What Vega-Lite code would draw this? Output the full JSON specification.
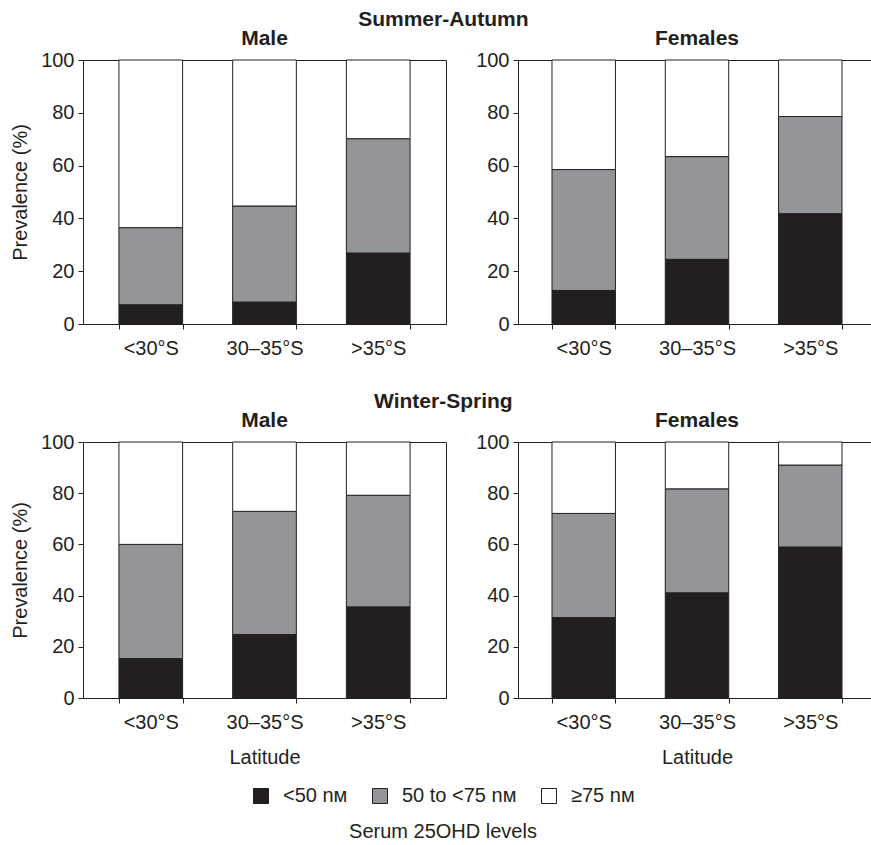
{
  "$schema": "https://vega.github.io/schema/vega-lite/v6.json",
  "padding": {"left": 10, "top": 8, "right": 0, "bottom": 0},
  "background": "white",
  "datasets": {
    "prev": [
      {"season": "Summer-Autumn", "sex": "Male", "lat": "<30°S", "level": "<50 nᴍ", "rank": 1, "value": 7.3},
      {"season": "Summer-Autumn", "sex": "Male", "lat": "<30°S", "level": "50 to <75 nᴍ", "rank": 2, "value": 29.2},
      {"season": "Summer-Autumn", "sex": "Male", "lat": "<30°S", "level": "≥75 nᴍ", "rank": 3, "value": 63.5},
      {"season": "Summer-Autumn", "sex": "Male", "lat": "30–35°S", "level": "<50 nᴍ", "rank": 1, "value": 8.3},
      {"season": "Summer-Autumn", "sex": "Male", "lat": "30–35°S", "level": "50 to <75 nᴍ", "rank": 2, "value": 36.4},
      {"season": "Summer-Autumn", "sex": "Male", "lat": "30–35°S", "level": "≥75 nᴍ", "rank": 3, "value": 55.3},
      {"season": "Summer-Autumn", "sex": "Male", "lat": ">35°S", "level": "<50 nᴍ", "rank": 1, "value": 26.9},
      {"season": "Summer-Autumn", "sex": "Male", "lat": ">35°S", "level": "50 to <75 nᴍ", "rank": 2, "value": 43.3},
      {"season": "Summer-Autumn", "sex": "Male", "lat": ">35°S", "level": "≥75 nᴍ", "rank": 3, "value": 29.8},
      {"season": "Summer-Autumn", "sex": "Females", "lat": "<30°S", "level": "<50 nᴍ", "rank": 1, "value": 12.7},
      {"season": "Summer-Autumn", "sex": "Females", "lat": "<30°S", "level": "50 to <75 nᴍ", "rank": 2, "value": 45.8},
      {"season": "Summer-Autumn", "sex": "Females", "lat": "<30°S", "level": "≥75 nᴍ", "rank": 3, "value": 41.5},
      {"season": "Summer-Autumn", "sex": "Females", "lat": "30–35°S", "level": "<50 nᴍ", "rank": 1, "value": 24.5},
      {"season": "Summer-Autumn", "sex": "Females", "lat": "30–35°S", "level": "50 to <75 nᴍ", "rank": 2, "value": 38.9},
      {"season": "Summer-Autumn", "sex": "Females", "lat": "30–35°S", "level": "≥75 nᴍ", "rank": 3, "value": 36.6},
      {"season": "Summer-Autumn", "sex": "Females", "lat": ">35°S", "level": "<50 nᴍ", "rank": 1, "value": 41.8},
      {"season": "Summer-Autumn", "sex": "Females", "lat": ">35°S", "level": "50 to <75 nᴍ", "rank": 2, "value": 36.8},
      {"season": "Summer-Autumn", "sex": "Females", "lat": ">35°S", "level": "≥75 nᴍ", "rank": 3, "value": 21.4},
      {"season": "Winter-Spring", "sex": "Male", "lat": "<30°S", "level": "<50 nᴍ", "rank": 1, "value": 15.4},
      {"season": "Winter-Spring", "sex": "Male", "lat": "<30°S", "level": "50 to <75 nᴍ", "rank": 2, "value": 44.6},
      {"season": "Winter-Spring", "sex": "Male", "lat": "<30°S", "level": "≥75 nᴍ", "rank": 3, "value": 40.0},
      {"season": "Winter-Spring", "sex": "Male", "lat": "30–35°S", "level": "<50 nᴍ", "rank": 1, "value": 24.8},
      {"season": "Winter-Spring", "sex": "Male", "lat": "30–35°S", "level": "50 to <75 nᴍ", "rank": 2, "value": 48.1},
      {"season": "Winter-Spring", "sex": "Male", "lat": "30–35°S", "level": "≥75 nᴍ", "rank": 3, "value": 27.1},
      {"season": "Winter-Spring", "sex": "Male", "lat": ">35°S", "level": "<50 nᴍ", "rank": 1, "value": 35.6},
      {"season": "Winter-Spring", "sex": "Male", "lat": ">35°S", "level": "50 to <75 nᴍ", "rank": 2, "value": 43.6},
      {"season": "Winter-Spring", "sex": "Male", "lat": ">35°S", "level": "≥75 nᴍ", "rank": 3, "value": 20.8},
      {"season": "Winter-Spring", "sex": "Females", "lat": "<30°S", "level": "<50 nᴍ", "rank": 1, "value": 31.4},
      {"season": "Winter-Spring", "sex": "Females", "lat": "<30°S", "level": "50 to <75 nᴍ", "rank": 2, "value": 40.7},
      {"season": "Winter-Spring", "sex": "Females", "lat": "<30°S", "level": "≥75 nᴍ", "rank": 3, "value": 27.9},
      {"season": "Winter-Spring", "sex": "Females", "lat": "30–35°S", "level": "<50 nᴍ", "rank": 1, "value": 41.1},
      {"season": "Winter-Spring", "sex": "Females", "lat": "30–35°S", "level": "50 to <75 nᴍ", "rank": 2, "value": 40.6},
      {"season": "Winter-Spring", "sex": "Females", "lat": "30–35°S", "level": "≥75 nᴍ", "rank": 3, "value": 18.3},
      {"season": "Winter-Spring", "sex": "Females", "lat": ">35°S", "level": "<50 nᴍ", "rank": 1, "value": 59.0},
      {"season": "Winter-Spring", "sex": "Females", "lat": ">35°S", "level": "50 to <75 nᴍ", "rank": 2, "value": 32.0},
      {"season": "Winter-Spring", "sex": "Females", "lat": ">35°S", "level": "≥75 nᴍ", "rank": 3, "value": 9.0}
    ]
  },
  "data": {"name": "prev"},
  "vconcat": [
    {
      "title": {"text": "Summer-Autumn", "anchor": "middle", "offset": -2},
      "spacing": 28,
      "hconcat": [
        {
          "width": 363, "height": 264,
          "title": "Male",
          "transform": [{"filter": "datum.season === 'Summer-Autumn' && datum.sex === 'Male'"}],
          "mark": {"type": "bar", "stroke": "#231f20", "strokeWidth": 1},
          "encoding": {
            "x": {"field": "lat", "type": "nominal", "sort": ["<30°S", "30–35°S", ">35°S"], "scale": {"paddingInner": 0.44, "paddingOuter": 0.316}, "axis": {"title": null}},
            "y": {"field": "value", "type": "quantitative", "stack": "zero", "scale": {"domain": [0, 100]}, "axis": {"title": "Prevalence (%)", "values": [0, 20, 40, 60, 80, 100]}},
            "color": {"field": "level", "type": "nominal", "scale": {"domain": ["<50 nᴍ", "50 to <75 nᴍ", "≥75 nᴍ"], "range": ["#231f20", "#939598", "#ffffff"]}, "legend": {"title": "Serum 25OHD levels"}},
            "order": {"field": "rank", "type": "quantitative"}
          }
        },
        {
          "width": 358, "height": 264,
          "title": "Females",
          "transform": [{"filter": "datum.season === 'Summer-Autumn' && datum.sex === 'Females'"}],
          "mark": {"type": "bar", "stroke": "#231f20", "strokeWidth": 1},
          "encoding": {
            "x": {"field": "lat", "type": "nominal", "sort": ["<30°S", "30–35°S", ">35°S"], "scale": {"paddingInner": 0.44, "paddingOuter": 0.3}, "axis": {"title": null}},
            "y": {"field": "value", "type": "quantitative", "stack": "zero", "scale": {"domain": [0, 100]}, "axis": {"title": null, "values": [0, 20, 40, 60, 80, 100]}},
            "color": {"field": "level", "type": "nominal", "scale": {"domain": ["<50 nᴍ", "50 to <75 nᴍ", "≥75 nᴍ"], "range": ["#231f20", "#939598", "#ffffff"]}, "legend": {"title": "Serum 25OHD levels"}},
            "order": {"field": "rank", "type": "quantitative"}
          }
        }
      ]
    },
    {
      "title": {"text": "Winter-Spring", "anchor": "middle", "offset": -2},
      "spacing": 28,
      "hconcat": [
        {
          "width": 363, "height": 256,
          "title": "Male",
          "transform": [{"filter": "datum.season === 'Winter-Spring' && datum.sex === 'Male'"}],
          "mark": {"type": "bar", "stroke": "#231f20", "strokeWidth": 1},
          "encoding": {
            "x": {"field": "lat", "type": "nominal", "sort": ["<30°S", "30–35°S", ">35°S"], "scale": {"paddingInner": 0.44, "paddingOuter": 0.316}, "axis": {"title": "Latitude"}},
            "y": {"field": "value", "type": "quantitative", "stack": "zero", "scale": {"domain": [0, 100]}, "axis": {"title": "Prevalence (%)", "values": [0, 20, 40, 60, 80, 100]}},
            "color": {"field": "level", "type": "nominal", "scale": {"domain": ["<50 nᴍ", "50 to <75 nᴍ", "≥75 nᴍ"], "range": ["#231f20", "#939598", "#ffffff"]}, "legend": {"title": "Serum 25OHD levels"}},
            "order": {"field": "rank", "type": "quantitative"}
          }
        },
        {
          "width": 358, "height": 256,
          "title": "Females",
          "transform": [{"filter": "datum.season === 'Winter-Spring' && datum.sex === 'Females'"}],
          "mark": {"type": "bar", "stroke": "#231f20", "strokeWidth": 1},
          "encoding": {
            "x": {"field": "lat", "type": "nominal", "sort": ["<30°S", "30–35°S", ">35°S"], "scale": {"paddingInner": 0.44, "paddingOuter": 0.3}, "axis": {"title": "Latitude"}},
            "y": {"field": "value", "type": "quantitative", "stack": "zero", "scale": {"domain": [0, 100]}, "axis": {"title": null, "values": [0, 20, 40, 60, 80, 100]}},
            "color": {"field": "level", "type": "nominal", "scale": {"domain": ["<50 nᴍ", "50 to <75 nᴍ", "≥75 nᴍ"], "range": ["#231f20", "#939598", "#ffffff"]}, "legend": {"title": "Serum 25OHD levels"}},
            "order": {"field": "rank", "type": "quantitative"}
          }
        }
      ]
    }
  ],
  "spacing": 31,
  "resolve": {"legend": {"color": "shared"}},
  "config": {
    "font": "Liberation Sans",
    "view": {"stroke": "#231f20", "strokeWidth": 1},
    "title": {"font": "Liberation Sans", "fontSize": 21, "fontWeight": "bold", "color": "#231f20", "offset": 1},
    "axis": {
      "grid": false,
      "domainColor": "#231f20",
      "tickColor": "#231f20",
      "tickSize": 5,
      "labelColor": "#231f20",
      "labelFont": "Liberation Sans",
      "labelFontSize": 20,
      "titleFont": "Liberation Sans",
      "titleFontSize": 20,
      "titleFontWeight": "normal",
      "titleColor": "#231f20"
    },
    "axisX": {"labelAngle": 0, "labelPadding": 9, "tickBand": "extent", "titlePadding": 15},
    "axisY": {"labelPadding": 4, "titlePadding": 10},
    "legend": {
      "orient": "bottom",
      "direction": "horizontal",
      "titleOrient": "bottom",
      "titleAnchor": "middle",
      "titleFont": "Liberation Sans",
      "titleFontSize": 20,
      "titleFontWeight": "normal",
      "titleColor": "#231f20",
      "titlePadding": 16,
      "titleLimit": 500,
      "labelFont": "Liberation Sans",
      "labelFontSize": 20,
      "labelColor": "#231f20",
      "labelOffset": 12,
      "labelLimit": 300,
      "symbolType": "square",
      "symbolSize": 225,
      "symbolStrokeColor": "#231f20",
      "symbolStrokeWidth": 1,
      "columnPadding": 22,
      "offset": 18,
      "layout": {"bottom": {"anchor": "middle"}}
    }
  }
}
